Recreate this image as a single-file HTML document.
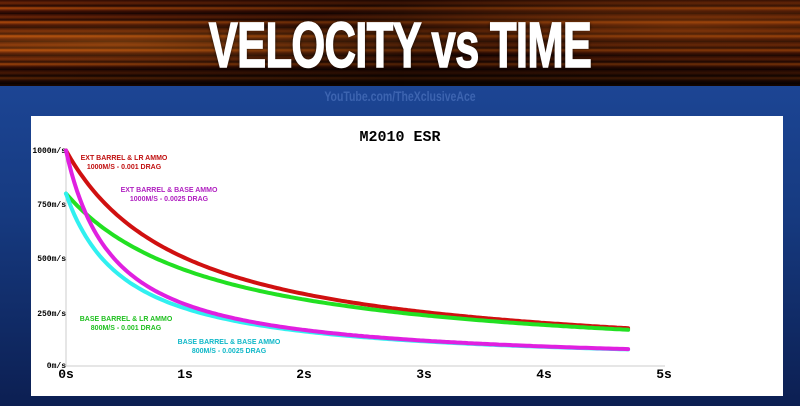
<!DOCTYPE html>
<html><head><style>
body{margin:0;width:800px;height:406px;overflow:hidden;background:#0b1a44;font-family:"Liberation Sans",sans-serif;position:relative}
#top{position:absolute;left:0;top:0;width:800px;height:86px;background:
repeating-linear-gradient(180deg,#3a0e04 0,#7a2a08 3px,#2a0a03 6px,#c0500c 8px,#4a1205 11px,#1e0602 14px);}
#top:after{content:"";position:absolute;inset:0;background:radial-gradient(ellipse at 15% 50%,rgba(255,140,30,.35),transparent 40%),radial-gradient(ellipse at 85% 30%,rgba(255,120,20,.3),transparent 40%),linear-gradient(90deg,rgba(0,0,0,.1),rgba(0,0,0,.5) 50%,rgba(0,0,0,.3)),linear-gradient(180deg,transparent 70%,rgba(0,0,0,.7))}
#title{position:absolute;left:0;width:800px;top:8px;text-align:center;color:#fff;font-weight:bold;font-size:64px;z-index:2;letter-spacing:-1px;transform:scaleX(.68);transform-origin:center;text-shadow:0 0 4px #000;-webkit-text-stroke:1.5px #fff}
#blue{position:absolute;left:0;top:86px;width:800px;height:320px;background:linear-gradient(180deg,#1c4594 0,#163a80 40%,#0c1f52 100%)}
#yt{position:absolute;top:88px;left:0;width:800px;text-align:center;color:#3d64b0;font-size:14px;font-weight:bold;transform:scaleX(.75)}
#panel{position:absolute;left:31px;top:116px;width:752px;height:280px;background:#fff}
</style></head><body>
<div id="top"></div><div id="title">VELOCITY vs TIME</div>
<div id="blue"></div><div id="yt">YouTube.com/TheXclusiveAce</div>
<div id="panel"></div>
<svg width="800" height="406" style="position:absolute;left:0;top:0">
<text x="400" y="141" text-anchor="middle" font-family="Liberation Mono,monospace" font-weight="bold" font-size="15">M2010 ESR</text>
<line x1="66" y1="150" x2="66" y2="366" stroke="#ccc"/>
<line x1="66" y1="366" x2="665" y2="366" stroke="#ccc"/>
<g font-family="Liberation Mono,monospace" font-size="8" text-anchor="end" font-weight="bold">
<text x="66" y="153">1000m/s</text><text x="66" y="207">750m/s</text><text x="66" y="261">500m/s</text><text x="66" y="316">250m/s</text><text x="66" y="368">0m/s</text></g>
<g font-family="Liberation Mono,monospace" font-size="13" text-anchor="middle" font-weight="bold">
<text x="66" y="378">0s</text><text x="185" y="378">1s</text><text x="304" y="378">2s</text><text x="424" y="378">3s</text><text x="544" y="378">4s</text><text x="664" y="378">5s</text></g>
<g id="curves" fill="none" stroke-width="4" stroke-linecap="round"></g>
<g font-size="7" font-weight="bold" text-anchor="middle">
<text x="124" y="160" fill="#c01010">EXT BARREL &amp; LR AMMO</text><text x="124" y="169" fill="#c01010">1000M/S - 0.001 DRAG</text>
<text x="169" y="192" fill="#b020c0">EXT BARREL &amp; BASE AMMO</text><text x="169" y="201" fill="#b020c0">1000M/S - 0.0025 DRAG</text>
<text x="126" y="321" fill="#20c020">BASE BARREL &amp; LR AMMO</text><text x="126" y="330" fill="#20c020">800M/S - 0.001 DRAG</text>
<text x="229" y="344" fill="#10b8c8">BASE BARREL &amp; BASE AMMO</text><text x="229" y="353" fill="#10b8c8">800M/S - 0.0025 DRAG</text>
</g>
</svg>
<script>
var S=[[1000,0.001,"#d01010"],[800,0.001,"#22e022"],[800,0.0025,"#30f0f0"],[1000,0.0025,"#e020e0"]];
var g=document.getElementById("curves"),h="";
S.forEach(function(s){var d="";for(var i=0;i<=200;i++){var t=4.7*i/200;var v=s[0]/(1+s[1]*s[0]*t);var x=66+t*119.6,y=366-v*0.2155;d+=(i?"L":"M")+x.toFixed(1)+" "+y.toFixed(1);}h+='<path d="'+d+'" stroke="'+s[2]+'"/>';});
g.innerHTML=h;
</script>
</body></html>
